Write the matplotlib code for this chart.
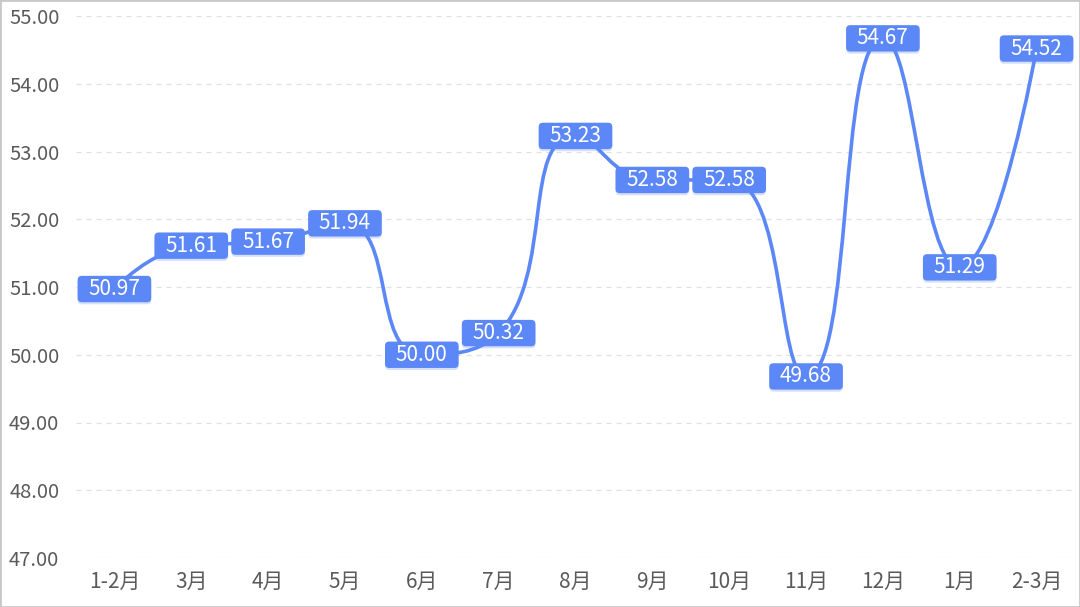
import matplotlib
matplotlib.use("Agg")
import matplotlib.pyplot as plt
from matplotlib.path import Path
from matplotlib.patches import PathPatch, FancyBboxPatch
import matplotlib.transforms as mtransforms
import numpy as np

plt.rcParams['font.family'] = ['Noto Sans CJK SC', 'DejaVu Sans']

months = ['1-2月', '3月', '4月', '5月', '6月', '7月', '8月', '9月', '10月', '11月', '12月', '1月', '2-3月']
values = [50.97, 51.61, 51.67, 51.94, 50.00, 50.32, 53.23, 52.58, 52.58, 49.68, 54.67, 51.29, 54.52]

blue = '#5B87F7'
grid_col = '#E0E0E0'
text_col = '#5A5A5A'


def smooth_path(px, py, smooth=0.5):
    # echarts-style smoothing with control points clamped to neighbours
    verts = [(px[0], py[0])]
    codes = [Path.MOVETO]
    cpx0, cpy0 = px[0], py[0]
    n = len(px)
    for k in range(1, n):
        x, y = px[k], py[k]
        prevX, prevY = px[k - 1], py[k - 1]
        if k == n - 1:
            cpx1, cpy1 = x, y
            nx0, ny0 = x, y
        else:
            nextX, nextY = px[k + 1], py[k + 1]
            vx, vy = nextX - prevX, nextY - prevY
            lp = np.hypot(x - prevX, y - prevY)
            ln = np.hypot(nextX - x, nextY - y)
            r = ln / (ln + lp)
            nx0 = x + vx * smooth * r
            ny0 = y + vy * smooth * r
            nx0 = min(nx0, max(nextX, x)); ny0 = min(ny0, max(nextY, y))
            nx0 = max(nx0, min(nextX, x)); ny0 = max(ny0, min(nextY, y))
            vx, vy = nx0 - x, ny0 - y
            cpx1 = x - vx * lp / ln
            cpy1 = y - vy * lp / ln
            cpx1 = min(cpx1, max(prevX, x)); cpy1 = min(cpy1, max(prevY, y))
            cpx1 = max(cpx1, min(prevX, x)); cpy1 = max(cpy1, min(prevY, y))
            vx, vy = x - cpx1, y - cpy1
            nx0 = x + vx * ln / lp
            ny0 = y + vy * ln / lp
        verts += [(cpx0, cpy0), (cpx1, cpy1), (x, y)]
        codes += [Path.CURVE4] * 3
        cpx0, cpy0 = nx0, ny0
    return verts, codes


fig = plt.figure(figsize=(10.8, 6.07), dpi=100)
ax = fig.add_axes([76 / 1080, 1 - 558 / 607, 999 / 1080, 542 / 607])

ax.set_xlim(-0.5, len(months) - 0.5)
ax.set_ylim(47, 55)
ax.set_yticks(np.arange(47, 55.1, 1))
ax.set_yticklabels([f'{v:.2f}' for v in np.arange(47, 55.1, 1)])
ax.set_xticks(range(len(months)))
ax.set_xticklabels(months)
ax.tick_params(length=0, colors=text_col)
ax.tick_params(axis='y', pad=12, labelsize=14.5)
ax.tick_params(axis='x', pad=9, labelsize=15)
for s in ax.spines.values():
    s.set_visible(False)
ax.grid(axis='y', color=grid_col, linestyle=(0, (4, 4)), linewidth=0.9)
ax.set_axisbelow(True)

# smooth line computed in pixel-like units then mapped back
sx, sy = 999 / 13, 542 / 8
xs = [i * sx for i in range(len(values))]
ys = [v * sy for v in values]
verts, codes = smooth_path(xs, ys)
verts = [(a / sx, b / sy) for a, b in verts]
ax.add_patch(PathPatch(Path(verts, codes), facecolor='none', edgecolor=blue,
                       linewidth=2.6, capstyle='round', joinstyle='round', zorder=3))

# label boxes: size in points, centred on each data point
bw, bh = 53, 19
pts = mtransforms.Affine2D().scale(fig.dpi / 72)
for i, v in enumerate(values):
    at = mtransforms.ScaledTranslation(i, v, ax.transData)
    shadow = FancyBboxPatch((-bw / 2, -bh / 2 - 1.5), bw, bh,
                            boxstyle='round,pad=0,rounding_size=3',
                            facecolor=blue, edgecolor='none', alpha=0.25,
                            transform=pts + at, zorder=4, clip_on=False)
    box = FancyBboxPatch((-bw / 2, -bh / 2), bw, bh,
                         boxstyle='round,pad=0,rounding_size=3',
                         facecolor=blue, edgecolor='none',
                         transform=pts + at, zorder=5, clip_on=False)
    ax.add_patch(shadow)
    ax.add_patch(box)
    ax.text(i, v, f'{v:.2f}', ha='center', va='center', color='white', fontsize=15,
            zorder=6)

# light border around the figure
fig.patches.append(plt.Rectangle((0, 0), 1, 1, transform=fig.transFigure, fill=False,
                                 edgecolor='#C8C8C8', linewidth=2))

fig.savefig('out.png', dpi=100)
